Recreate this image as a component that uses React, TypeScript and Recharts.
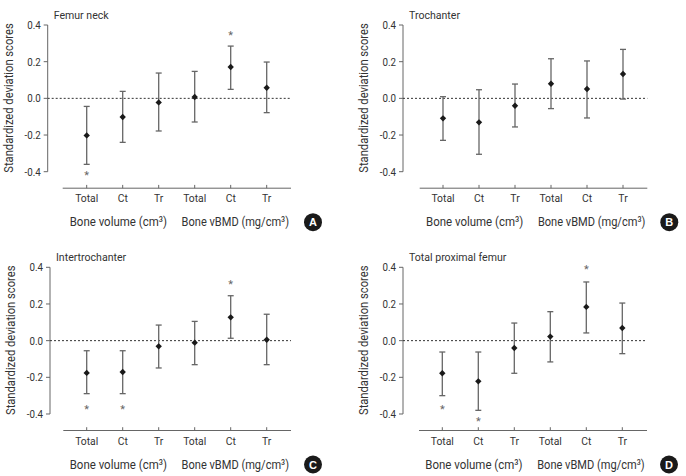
import React from "react";
import { ComposedChart, Scatter, ErrorBar, XAxis, YAxis, ReferenceLine } from "recharts";

const categories = ["Total", "Ct", "Tr", "Total", "Ct", "Tr"];
const categoryX = [1, 2, 3, 4, 5, 6];
const yTicks = [-0.4, -0.2, 0, 0.2, 0.4];

// Femur neck
const neckMean = [-0.202, -0.102, -0.022, 0.007, 0.171, 0.058];
const neckUpper = [-0.044, 0.038, 0.138, 0.147, 0.285, 0.198];
const neckLower = [-0.36, -0.24, -0.178, -0.129, 0.049, -0.078];
const neckStarX = [1, 5];
const neckStarY = [-0.41, 0.355];

// Trochanter
const trochMean = [-0.109, -0.131, -0.04, 0.08, 0.051, 0.133];
const trochUpper = [0.009, 0.047, 0.078, 0.216, 0.204, 0.267];
const trochLower = [-0.229, -0.305, -0.156, -0.056, -0.107, -0.004];
const trochStarX: number[] = [];
const trochStarY: number[] = [];

// Intertrochanter
const interMean = [-0.176, -0.171, -0.031, -0.011, 0.127, 0.005];
const interUpper = [-0.055, -0.055, 0.085, 0.105, 0.245, 0.144];
const interLower = [-0.289, -0.289, -0.149, -0.131, 0.013, -0.131];
const interStarX = [1, 2, 5];
const interStarY = [-0.365, -0.365, 0.316];

// Total proximal femur
const totalMean = [-0.178, -0.222, -0.04, 0.022, 0.184, 0.069];
const totalUpper = [-0.062, -0.062, 0.096, 0.158, 0.32, 0.205];
const totalLower = [-0.3, -0.38, -0.178, -0.116, 0.042, -0.071];
const totalStarX = [1, 2, 5];
const totalStarY = [-0.362, -0.431, 0.4];

const FONT = "Roboto, 'Liberation Sans', sans-serif";
const TEXT = "#333";
const W = 343;
const H = 238;
const STEP = 36; // px between categories
const PLOT_H = 163.2;
const Y_MIN = -0.49;
const TICK_UP = 0.018; // inward x tick length, in data units
const Y_AXIS_W = 40;
const X_AXIS_H = 20;

function NText({ x, y, size, anchor = "start", rotate = 0, squeeze = 1, children, fill = TEXT }: any) {
  return (
    <text
      transform={`translate(${x},${y}) rotate(${rotate}) scale(${squeeze},1)`}
      textAnchor={anchor}
      fontSize={size}
      fontFamily={FONT}
      fill={fill}
    >
      {children}
    </text>
  );
}

const XTick = (props: any) => {
  const { x, y, payload } = props;
  return <NText x={x} y={y + 8} size={11.5} squeeze={0.9} anchor="middle">{categories[payload.value - 1]}</NText>;
};

const YTick = (props: any) => {
  const { x, y, payload } = props;
  return <NText x={x - 1} y={y + 4} size={11.5} squeeze={0.85} anchor="end">{Number(payload.value).toFixed(1)}</NText>;
};

const Diamond = (props: any) => {
  const { cx, cy } = props;
  const s = 3.2;
  return <polygon points={`${cx},${cy - s} ${cx + s},${cy} ${cx},${cy + s} ${cx - s},${cy}`} fill="#1a1a1a" />;
};

const Star = (props: any) => {
  const { cx, cy } = props;
  return (
    <text x={cx} y={cy + 5.5} textAnchor="middle" fontSize={11} fill="#666" fontFamily={FONT}>
      *
    </text>
  );
};

interface PanelProps {
  title: string;
  letter: string;
  mean: number[];
  upper: number[];
  lower: number[];
  starX: number[];
  starY: number[];
  left: number;
  top: number;
  axisX: number;
  plotTop: number;
  cat1: number;
  plotRight: number;
  lineStart: number;
  titleY: number;
}

function Panel(p: PanelProps) {
  const data = categories.map((c, i) => ({
    x: categoryX[i],
    y: p.mean[i],
    err: [p.mean[i] - p.lower[i], p.upper[i] - p.mean[i]],
  }));
  const stars = p.starX.map((x, i) => ({ x, y: p.starY[i] }));
  const xMin = 1 - (p.cat1 - p.axisX) / STEP;
  const xMax = 1 + (p.plotRight - p.cat1) / STEP;
  const xLineStart = xMin + (p.lineStart - p.axisX) / STEP;
  const bottom = H - p.plotTop - PLOT_H;
  const labelY = p.plotTop + PLOT_H + 38;

  return (
    <div style={{ position: "absolute", left: p.left, top: p.top, width: W, height: H }}>
      <ComposedChart
        width={W}
        height={H}
        margin={{ top: p.plotTop, right: W - p.plotRight, bottom: bottom - X_AXIS_H, left: p.axisX - Y_AXIS_W }}
      >
        <XAxis
          type="number"
          dataKey="x"
          domain={[xMin, xMax]}
          ticks={categoryX}
          axisLine={false}
          tickLine={false}
          tickSize={4}
          height={X_AXIS_H}
          interval={0}
          tick={<XTick />}
        />
        <YAxis
          type="number"
          domain={[Y_MIN, 0.4]}
          ticks={yTicks}
          axisLine={false}
          tickLine={{ stroke: "#666" }}
          tickSize={4}
          width={Y_AXIS_W}
          tick={<YTick />}
        />
        <ReferenceLine segment={[{ x: xMin, y: -0.4 }, { x: xMin, y: 0.4 }]} stroke="#666" strokeWidth={1} ifOverflow="visible" />
        <ReferenceLine segment={[{ x: xLineStart, y: Y_MIN }, { x: xMax, y: Y_MIN }]} stroke="#666" strokeWidth={1} ifOverflow="visible" />
        {categoryX.map((cx) => (
          <ReferenceLine key={cx} segment={[{ x: cx, y: Y_MIN }, { x: cx, y: Y_MIN + TICK_UP }]} stroke="#666" strokeWidth={1} ifOverflow="visible" />
        ))}
        <ReferenceLine y={0} stroke="#333" strokeDasharray="2 2" strokeWidth={1} />
        <Scatter data={data} dataKey="y" shape={<Diamond />} isAnimationActive={false}>
          <ErrorBar dataKey="err" direction="y" width={3} stroke="#666" strokeWidth={1.3} isAnimationActive={false} />
        </Scatter>
        <Scatter data={stars} dataKey="y" shape={<Star />} isAnimationActive={false} />
      </ComposedChart>
      <svg width={W} height={H} style={{ position: "absolute", left: 0, top: 0, pointerEvents: "none", overflow: "visible" }}>
        <NText x={p.axisX + 6} y={p.titleY + 4} size={11.5} squeeze={0.92}>{p.title}</NText>
        <NText x={p.axisX - 35} y={p.plotTop + 73} size={13} anchor="middle" rotate={-90} squeeze={0.86}>
          Standardized deviation scores
        </NText>
        <NText x={p.cat1 + STEP - 4.4} y={labelY} size={13.5} anchor="middle" squeeze={0.85}>
          Bone volume (cm³)
        </NText>
        <NText x={p.cat1 + 4 * STEP + 4.6} y={labelY} size={13.5} anchor="middle" squeeze={0.82}>
          Bone vBMD (mg/cm³)
        </NText>
        <circle cx={p.plotRight + 22} cy={labelY - 4} r={9} fill="#1a1a1a" />
        <text x={p.plotRight + 22} y={labelY} textAnchor="middle" fontSize={11} fontWeight="bold" fill="#fff" fontFamily="'Liberation Sans', Arial, sans-serif">
          {p.letter}
        </text>
      </svg>
    </div>
  );
}

export default function App() {
  return (
    <div style={{ position: "absolute", left: 0, top: 0, width: 686, height: 476, background: "#fff" }}>
      <Panel title="Femur neck" letter="A" mean={neckMean} upper={neckUpper} lower={neckLower} starX={neckStarX} starY={neckStarY}
        left={0} top={0} axisX={47.7} plotTop={25} cat1={86.7} plotRight={291} lineStart={62.7} titleY={15} />
      <Panel title="Trochanter" letter="B" mean={trochMean} upper={trochUpper} lower={trochLower} starX={trochStarX} starY={trochStarY}
        left={343} top={0} axisX={60} plotTop={25} cat1={100} plotRight={304.3} lineStart={76.7} titleY={15} />
      <Panel title="Intertrochanter" letter="C" mean={interMean} upper={interUpper} lower={interLower} starX={interStarX} starY={interStarY}
        left={0} top={238} axisX={50} plotTop={29.3} cat1={86.7} plotRight={291} lineStart={63.3} titleY={18.5} />
      <Panel title="Total proximal femur" letter="D" mean={totalMean} upper={totalUpper} lower={totalLower} starX={totalStarX} starY={totalStarY}
        left={343} top={238} axisX={60} plotTop={29.3} cat1={99.3} plotRight={304} lineStart={76} titleY={19.3} />
    </div>
  );
}
